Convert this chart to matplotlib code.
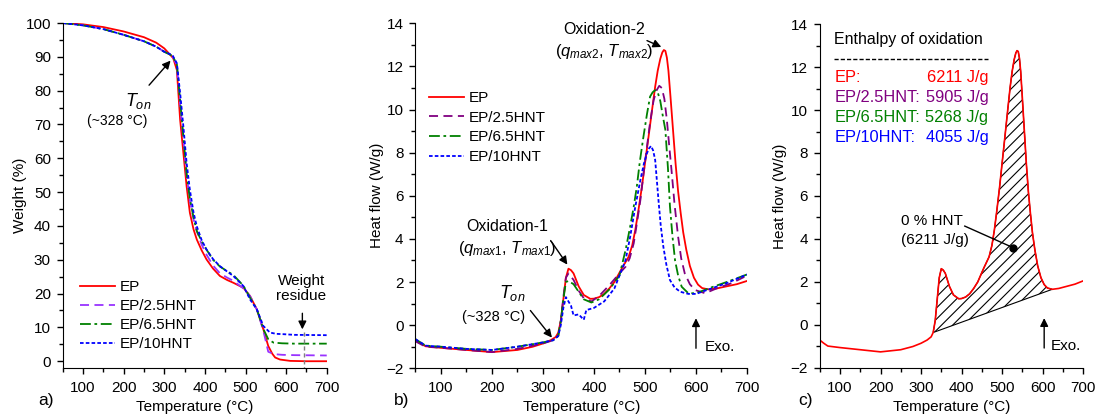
import matplotlib
matplotlib.use("Agg")
import matplotlib.pyplot as plt
import numpy as np
from matplotlib.ticker import MultipleLocator

plt.rcParams['font.family'] = ['Liberation Sans', 'DejaVu Sans']
plt.rcParams['mathtext.fontset'] = 'custom'
plt.rcParams['mathtext.rm'] = 'Liberation Sans'
plt.rcParams['mathtext.it'] = 'Liberation Sans:italic'
plt.rcParams['hatch.linewidth'] = 0.8

# ---- data: TGA (panel a) ----
labels = ['EP', 'EP/2.5HNT', 'EP/6.5HNT', 'EP/10HNT']

tga_ep_t = [50, 100, 150, 200, 250, 280, 300, 322, 331, 339, 347, 355, 363, 372, 380, 392, 404,
            420, 437, 455, 470, 495, 511, 528, 544, 556, 566, 573, 585, 610, 650, 700]
tga_ep_w = [100, 99.6, 98.8, 97.5, 95.8, 94.2, 92.5, 89.6, 86.1, 71.4, 61.6, 51.7, 43.9, 39.0,
            36.0, 32.8, 30.1, 27.4, 25.2, 24.0, 23.2, 21.7, 19.3, 15.3, 9.4, 4.5, 2.2, 1.1,
            0.5, 0.1, 0.0, 0.0]

tga_25_t = [50, 100, 150, 200, 250, 280, 300, 320, 331, 339, 347, 355, 363, 372, 380, 392, 404,
            420, 437, 455, 470, 495, 511, 528, 544, 556, 570, 590, 620, 700]
tga_25_w = [100, 99.3, 98.2, 96.5, 94.6, 93.0, 91.5, 90.3, 87.5, 76.0, 65.5, 55.0, 47.5, 42.0,
            38.5, 34.5, 31.5, 28.3, 26.0, 24.7, 23.8, 21.5, 19.3, 15.3, 9.0, 2.8, 2.1, 1.9,
            1.8, 1.7]

tga_65_t = [50, 100, 150, 200, 250, 280, 300, 320, 331, 339, 347, 355, 363, 372, 380, 392, 404,
            420, 437, 455, 470, 495, 511, 528, 544, 556, 569, 590, 620, 700]
tga_65_w = [100, 99.3, 98.2, 96.5, 94.6, 93.0, 91.5, 90.3, 87.8, 77.0, 66.5, 55.5, 48.0, 42.5,
            38.5, 35.5, 33.0, 30.0, 28.0, 26.6, 25.5, 22.3, 18.8, 15.3, 9.5, 6.5, 5.5, 5.3,
            5.2, 5.2]

tga_10_t = [50, 100, 150, 200, 250, 280, 300, 320, 331, 339, 347, 355, 363, 372, 380, 392, 404,
            420, 437, 455, 470, 495, 511, 528, 544, 560, 575, 593, 620, 700]
tga_10_w = [100, 99.3, 98.2, 96.5, 94.6, 93.0, 91.5, 90.5, 88.1, 79.3, 69.4, 58.6, 50.7, 44.0,
            39.9, 35.8, 33.0, 30.2, 28.1, 26.5, 25.2, 22.2, 18.3, 15.3, 10.4, 8.5, 8.1, 8.0,
            7.8, 7.7]

# ---- data: DSC heat flow (panels b, c) ----
dsc_ep_t = [50, 60, 70, 100, 150, 200, 250, 280, 300, 315, 325, 330, 335, 340, 345, 350, 355,
            360, 365, 370, 380, 393, 400, 410, 420, 430, 440, 455, 468, 475, 481, 487, 494,
            500, 507, 514, 520, 525, 530, 534, 537, 540, 543, 546, 550, 556, 560, 565, 570,
            575, 581, 588, 596, 604, 612, 624, 640, 660, 680, 700]
dsc_ep_q = [-0.7, -0.85, -0.98, -1.05, -1.15, -1.25, -1.15, -1.0, -0.85, -0.7, -0.55, -0.35,
            0.2, 1.2, 2.2, 2.62, 2.55, 2.4, 2.1, 1.8, 1.4, 1.22, 1.23, 1.3, 1.45, 1.7, 2.0,
            2.65, 3.17, 3.7, 4.41, 5.3, 6.42, 7.5, 8.74, 10.0, 11.06, 11.8, 12.35, 12.65, 12.76,
            12.72, 12.4, 11.8, 10.6, 8.74, 7.5, 6.2, 5.2, 4.3, 3.5, 2.75, 2.2, 1.88, 1.72,
            1.66, 1.7, 1.8, 1.9, 2.05]

dsc_25_t = [50, 70, 100, 150, 200, 250, 300, 320, 330, 335, 340, 345, 350, 360, 370, 380, 395,
            410, 430, 450, 462, 470, 478, 484, 491, 497, 504, 510, 517, 523, 528, 533, 538,
            543, 548, 552, 558, 565, 571, 578, 588, 598, 618, 640, 670, 700]
dsc_25_q = [-0.75, -1.0, -1.05, -1.15, -1.25, -1.1, -0.85, -0.7, -0.5, 0.2, 1.3, 2.2, 2.4,
            2.1, 1.6, 1.25, 1.1, 1.35, 1.85, 2.4, 2.71, 3.1, 3.8, 4.7, 5.8, 7.0, 8.28, 9.4,
            10.44, 10.9, 11.1, 11.0, 10.5, 9.5, 8.2, 7.2, 5.6, 4.1, 3.1, 2.4, 1.9, 1.63, 1.48,
            1.7, 1.95, 2.3]

dsc_65_t = [50, 70, 100, 150, 200, 250, 300, 320, 330, 335, 340, 345, 350, 360, 370, 380, 395,
            410, 430, 450, 462, 471, 478, 484, 490, 497, 504, 510, 515, 520, 525, 530, 535,
            540, 545, 549, 554, 559, 565, 572, 585, 600, 630, 660, 700]
dsc_65_q = [-0.65, -0.95, -1.0, -1.1, -1.15, -1.0, -0.8, -0.7, -0.5, 0.2, 1.2, 2.0, 2.05,
            1.9, 1.55, 1.2, 1.05, 1.2, 1.65, 2.3, 3.49, 4.57, 5.5, 6.42, 7.6, 8.74, 9.8, 10.6,
            10.8, 10.9, 10.8, 10.4, 9.7, 9.05, 7.3, 5.5, 4.1, 3.0, 2.3, 1.78, 1.48, 1.48,
            1.75, 2.0, 2.35]

dsc_10_t = [50, 70, 100, 150, 200, 250, 300, 320, 330, 335, 340, 345, 350, 355, 360, 370, 380,
            385, 400, 420, 440, 462, 471, 481, 491, 498, 504, 508, 512, 516, 520, 523, 527,
            531, 536, 542, 549, 558, 569, 585, 600, 630, 660, 700]
dsc_10_q = [-0.65, -0.95, -1.0, -1.1, -1.15, -1.0, -0.8, -0.7, -0.5, 0.0, 0.8, 1.3, 1.1, 0.9,
            0.45, 0.5, 0.25, 0.7, 0.8, 1.1, 1.7, 3.02, 4.1, 5.49, 6.73, 7.5, 7.98, 8.2, 8.31,
            8.1, 7.66, 6.8, 5.65, 4.6, 3.64, 2.8, 2.09, 1.75, 1.55, 1.45, 1.45, 1.7, 1.95,
            2.35]

enthalpy = ['6211 J/g', '5905 J/g', '5268 J/g', '4055 J/g']

col_a = ['#FF0000', '#9933FF', '#008000', '#0000FF']
col_b = ['#FF0000', '#800080', '#008000', '#0000FF']
styles = ['-', (0, (5, 3)), (0, (6, 2, 1.5, 2)), (0, (2, 1.2))]

fig = plt.figure(figsize=(10.99, 4.16), dpi=100)
ax_a = fig.add_axes([0.0571, 0.1154, 0.2402, 0.8293])
ax_b = fig.add_axes([0.3780, 0.1147, 0.3017, 0.8293])
ax_c = fig.add_axes([0.7459, 0.1154, 0.2396, 0.8269])


def style_axes(ax, ylim, ymaj, ymin, ylab_x):
    ax.set_xlim(50, 700)
    ax.set_ylim(*ylim)
    ax.spines['top'].set_visible(False)
    ax.spines['right'].set_visible(False)
    ax.xaxis.set_major_locator(MultipleLocator(100))
    ax.xaxis.set_minor_locator(MultipleLocator(50))
    ax.yaxis.set_major_locator(MultipleLocator(ymaj))
    ax.yaxis.set_minor_locator(MultipleLocator(ymin))
    ax.tick_params(which='major', direction='out', length=4.5, width=1, labelsize=11, pad=4)
    ax.tick_params(axis='x', which='major', pad=5)
    ax.tick_params(which='minor', direction='out', length=3, width=1)
    ax.set_xlabel('Temperature (°C)', fontsize=11, labelpad=3.5)
    ax.yaxis.set_label_coords(ylab_x, 0.5)


# ---- panel a ----
tga = [(tga_ep_t, tga_ep_w), (tga_25_t, tga_25_w), (tga_65_t, tga_65_w), (tga_10_t, tga_10_w)]
for (t, w), c, ls, lab in zip(tga, col_a, styles, labels):
    ax_a.plot(t, w, color=c, linestyle=ls, lw=1.3, label=lab)
ax_a.set_ylabel('Weight (%)', fontsize=11)
style_axes(ax_a, (-2, 100), 10, 5, -0.135)
ax_a.legend(loc='upper left', bbox_to_anchor=(0.065, 0.255), frameon=False, fontsize=11,
            handlelength=2.3, handletextpad=0.3, labelspacing=0.33, borderpad=0,
            borderaxespad=0)
ax_a.annotate('', xy=(320, 89.5), xytext=(258, 81),
              arrowprops=dict(arrowstyle='-|>', color='k', lw=1, mutation_scale=12))
ax_a.text(236, 77, r'$T_{on}$', fontsize=13, ha='center', va='center')
ax_a.text(183, 71, '(~328 °C)', fontsize=10, ha='center', va='center')
ax_a.text(638, 21.5, 'Weight\nresidue', fontsize=11, ha='center', va='center', linespacing=1.05)
ax_a.annotate('', xy=(640, 8.6), xytext=(640, 15),
              arrowprops=dict(arrowstyle='-|>', color='k', lw=1, mutation_scale=12))
ax_a.plot([643, 643], [8.5, -2], color='gray', linestyle=(0, (3, 2)), lw=1)
fig.text(0.0346, 0.026, 'a)', fontsize=12.5)

# ---- panel b ----
dsc = [(dsc_ep_t, dsc_ep_q), (dsc_25_t, dsc_25_q), (dsc_65_t, dsc_65_q), (dsc_10_t, dsc_10_q)]
for (t, q), c, ls, lab in zip(dsc, col_b, styles, labels):
    ax_b.plot(t, q, color=c, linestyle=ls, lw=1.3, label=lab)
ax_b.set_ylabel('Heat flow (W/g)', fontsize=11)
style_axes(ax_b, (-2, 14), 2, 1, -0.096)
ax_b.legend(loc='upper left', bbox_to_anchor=(0.04, 0.804), frameon=False, fontsize=11,
            handlelength=2.3, handletextpad=0.3, labelspacing=0.37, borderpad=0,
            borderaxespad=0)
ax_b.text(420, 13.72, 'Oxidation-2', fontsize=11.5, ha='center', va='center')
ax_b.text(420, 12.7, r'$(q_{max2}$, $T_{max2})$', fontsize=12, ha='center', va='center')
ax_b.annotate('', xy=(537, 12.85), xytext=(499, 13.25),
              arrowprops=dict(arrowstyle='-|>', color='k', lw=1, mutation_scale=12))
ax_b.text(230, 4.57, 'Oxidation-1', fontsize=11.5, ha='center', va='center')
ax_b.text(230, 3.57, r'$(q_{max1}$, $T_{max1})$', fontsize=12, ha='center', va='center')
ax_b.annotate('', xy=(351, 2.7), xytext=(312, 4.03),
              arrowprops=dict(arrowstyle='-|>', color='k', lw=1, mutation_scale=12))
ax_b.text(240, 1.48, r'$T_{on}$', fontsize=13, ha='center', va='center')
ax_b.text(203, 0.4, '(~328 °C)', fontsize=10.5, ha='center', va='center')
ax_b.annotate('', xy=(321, -0.68), xytext=(272, 0.78),
              arrowprops=dict(arrowstyle='-|>', color='k', lw=1, mutation_scale=12))
ax_b.annotate('', xy=(600, 0.45), xytext=(600, -1.2),
              arrowprops=dict(arrowstyle='-|>', color='k', lw=1, mutation_scale=12))
ax_b.text(617, -1.0, 'Exo.', fontsize=11, ha='left', va='center')
fig.text(0.358, 0.026, 'b)', fontsize=12.5)

# ---- panel c ----
ep_t = np.array(dsc_ep_t)
ep_q = np.array(dsc_ep_q)
sel = (ep_t >= 330) & (ep_t <= 630)
ax_c.fill(ep_t[sel], ep_q[sel], facecolor='none', edgecolor='k', hatch='///', lw=0.8)
ax_c.plot(ep_t, ep_q, color='#FF0000', lw=1.2)
ax_c.set_ylabel('Heat flow (W/g)', fontsize=11)
style_axes(ax_c, (-2, 14), 2, 1, -0.124)
ax_c.text(86, 13.3, 'Enthalpy of oxidation', fontsize=11.5, ha='left', va='center')
ax_c.plot([86, 466], [12.37, 12.37], color='k', linestyle=(0, (3, 1.5)), lw=1)
names = ['EP:', 'EP/2.5HNT:', 'EP/6.5HNT:', 'EP/10HNT:']
for i, (nm, val, c) in enumerate(zip(names, enthalpy, col_b)):
    y = 11.5 - 0.92 * i
    ax_c.text(86, y, nm, color=c, fontsize=11.8, ha='left', va='center')
    ax_c.text(466, y, val, color=c, fontsize=11.8, ha='right', va='center')
ax_c.text(250, 4.84, '0 % HNT', fontsize=11, ha='left', va='center')
ax_c.text(250, 3.96, '(6211 J/g)', fontsize=11, ha='left', va='center')
ax_c.plot([408, 527], [4.6, 3.6], color='k', lw=1)
ax_c.plot([527], [3.6], 'ko', ms=5)
ax_c.annotate('', xy=(604, 0.45), xytext=(604, -1.2),
              arrowprops=dict(arrowstyle='-|>', color='k', lw=1, mutation_scale=12))
ax_c.text(619, -1.0, 'Exo.', fontsize=11, ha='left', va='center')
fig.text(0.726, 0.026, 'c)', fontsize=12.5)

fig.savefig('out.png', dpi=100)
